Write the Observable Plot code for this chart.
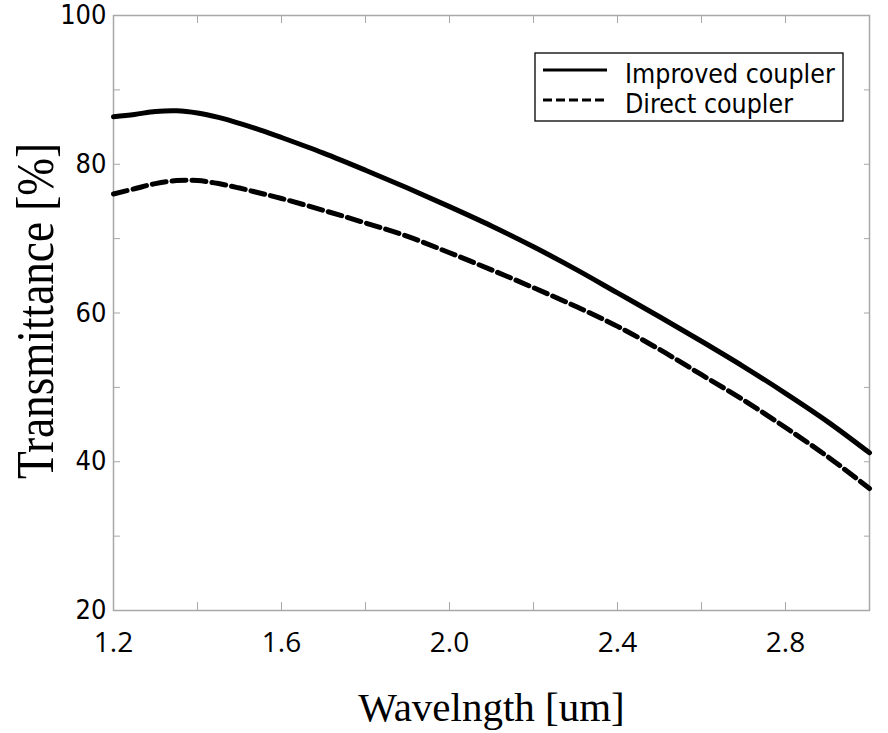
<!DOCTYPE html>
<html>
<head>
<meta charset="utf-8">
<script src="https://cdn.jsdelivr.net/npm/d3@7"></script>
<script src="https://cdn.jsdelivr.net/npm/@observablehq/plot@0.6"></script>
<style>
  html, body { margin: 0; padding: 0; background: #fff; }
  #chart svg { display: block; }
</style>
</head>
<body>
<div id="chart"></div>
<script>
// ---- data ----
const wavelength = [1.20, 1.25, 1.30, 1.35, 1.40, 1.45, 1.50, 1.55, 1.60, 1.70, 1.80, 1.90, 2.00, 2.10, 2.20, 2.30, 2.40, 2.50, 2.60, 2.70, 2.80, 2.90, 3.00];
const improvedCoupler = [86.4, 86.7, 87.1, 87.2, 86.9, 86.3, 85.5, 84.6, 83.6, 81.5, 79.2, 76.8, 74.3, 71.7, 68.9, 65.9, 62.7, 59.5, 56.2, 52.8, 49.2, 45.4, 41.2];
const directCoupler   = [76.0, 76.7, 77.4, 77.8, 77.8, 77.4, 76.8, 76.1, 75.4, 73.8, 72.1, 70.3, 68.1, 65.8, 63.4, 60.9, 58.2, 55.1, 51.7, 48.3, 44.6, 40.7, 36.4];
const seriesNames = ["Improved coupler", "Direct coupler"];
const xTicks = [1.2, 1.4, 1.6, 1.8, 2.0, 2.2, 2.4, 2.6, 2.8, 3.0];
const xTickLabels = [1.2, 1.6, 2.0, 2.4, 2.8];
const yTicks = [20, 30, 40, 50, 60, 70, 80, 90, 100];
const yTickLabels = [20, 40, 60, 80, 100];
const xTitle = "Wavelngth [um]";
const yTitle = "Transmittance [%]";

const rows = wavelength.flatMap((w, i) => [
  {w, t: improvedCoupler[i], s: seriesNames[0]},
  {w, t: directCoupler[i], s: seriesNames[1]}
]);

const axisGray = "#a8a8a8";
const sansFont = "'DejaVu Sans Condensed', 'DejaVu Sans', sans-serif";
const serifFont = "'Liberation Serif', 'Times New Roman', serif";

const chart = Plot.plot({
  width: 888,
  height: 733,
  marginLeft: 113,
  marginRight: 19,
  marginTop: 15,
  marginBottom: 123,
  style: {background: "#fff", color: "#000", overflow: "visible"},
  x: {domain: [1.2, 3.0]},
  y: {domain: [20, 100]},
  marks: [
    Plot.frame({stroke: axisGray, strokeWidth: 1.5}),
    // inward ticks on all four sides
    Plot.axisX({anchor: "bottom", ticks: xTicks, tickSize: -8, tickFormat: () => "", label: null, stroke: axisGray}),
    Plot.axisX({anchor: "top", ticks: xTicks, tickSize: -7, tickFormat: () => "", label: null, stroke: axisGray}),
    Plot.axisY({anchor: "left", ticks: yTicks, tickSize: -7, tickFormat: () => "", label: null, stroke: axisGray}),
    Plot.axisY({anchor: "right", ticks: yTicks, tickSize: -6, tickFormat: () => "", label: null, stroke: axisGray}),
    // tick labels
    Plot.axisX({anchor: "bottom", ticks: xTickLabels, tickSize: 0, tickPadding: 22, tickFormat: d3.format(".1f"), label: null,
      fontSize: 28, fontFamily: "'Open Sans', sans-serif", fill: "#000"}),
    Plot.axisY({anchor: "left", ticks: yTickLabels, tickSize: 0, tickPadding: 7, label: null,
      fontSize: 27, fontFamily: sansFont, fill: "#000"}),
    // series
    Plot.line(rows.filter(d => d.s === seriesNames[0]), {x: "w", y: "t", stroke: "#000", strokeWidth: 5, strokeLinejoin: "round", curve: "catmull-rom"}),
    Plot.line(rows.filter(d => d.s === seriesNames[1]), {x: "w", y: "t", stroke: "#000", strokeWidth: 5, strokeDasharray: "14,6", curve: "catmull-rom"}),
    // axis titles
    Plot.text([xTitle], {frameAnchor: "bottom", text: d => d, dy: 110, lineAnchor: "bottom",
      fontSize: 41, fontFamily: serifFont, fill: "#000"}),
    Plot.text([yTitle], {frameAnchor: "left", text: d => d, rotate: -90, textAnchor: "middle", dx: -61, dy: -2, lineAnchor: "bottom",
      fontSize: 52, fontFamily: serifFont, fill: "#000"})
  ]
});

document.getElementById("chart").appendChild(chart);

// compress the y title along its length like the reference
const svg = d3.select(chart);
svg.selectAll("text").filter(function () { return this.textContent === yTitle; })
  .each(function () {
    const t = this.getAttribute("transform") || "";
    this.setAttribute("transform", t + " scale(0.87,1)");
  });

// legend
const lg = svg.append("g").attr("class", "legend").attr("text-anchor", "start");
lg.append("rect").attr("x", 535).attr("y", 53).attr("width", 308).attr("height", 68)
  .attr("fill", "#fff").attr("stroke", "#000").attr("stroke-width", 1.3);
const dashes = ["none", "9,4"];
seriesNames.forEach((name, i) => {
  const yy = 70 + i * 30;
  lg.append("line").attr("x1", 543).attr("x2", 607).attr("y1", yy).attr("y2", yy)
    .attr("stroke", "#000").attr("stroke-width", 3).attr("stroke-dasharray", dashes[i]);
  lg.append("text").attr("x", 625).attr("y", yy + 13).text(name)
    .attr("text-anchor", "start")
    .attr("font-family", sansFont).attr("font-size", 26.5).attr("fill", "#000");
});
</script>
</body>
</html>
